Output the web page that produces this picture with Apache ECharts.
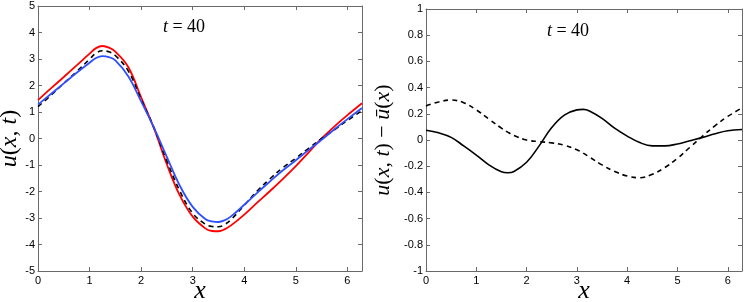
<!DOCTYPE html>
<html>
<head>
<meta charset="utf-8">
<script src="https://cdn.jsdelivr.net/npm/echarts@6/dist/echarts.min.js"></script>
<style>
html,body{margin:0;padding:0;background:#fff;}
#chart{width:747px;height:302px;}
</style>
</head>
<body>
<div id="chart"></div>
<script>
// ---- data ----
var xLeft  = [0,0.25,0.5,0.75,1.0,1.125,1.25,1.375,1.5,1.75,2.0,2.25,2.5,2.75,3.0,3.25,3.375,3.5,3.625,3.75,4.0,4.25,4.5,4.75,5.0,5.25,5.5,5.75,6.0,6.2832];
var uRed   = [1.45,1.89,2.32,2.76,3.20,3.41,3.49,3.43,3.28,2.70,1.55,0.38,-0.98,-2.15,-2.95,-3.40,-3.49,-3.50,-3.42,-3.27,-2.87,-2.42,-1.98,-1.52,-1.04,-0.52,0.0,0.46,0.88,1.33];
var uBlack = [1.20,1.63,2.08,2.53,2.99,3.22,3.31,3.27,3.13,2.55,1.48,0.40,-0.85,-1.98,-2.82,-3.24,-3.32,-3.33,-3.24,-3.05,-2.52,-1.98,-1.52,-1.10,-0.74,-0.37,0.0,0.33,0.68,1.05];
var uBlue  = [1.28,1.68,2.08,2.48,2.86,3.04,3.11,3.07,2.95,2.35,1.40,0.40,-0.70,-1.78,-2.58,-3.05,-3.13,-3.15,-3.08,-2.93,-2.50,-2.05,-1.62,-1.20,-0.82,-0.43,-0.05,0.35,0.73,1.15];

var xRight  = [0,0.25,0.5,0.75,1.0,1.25,1.5,1.625,1.75,2.0,2.25,2.5,2.75,3.0,3.125,3.25,3.5,3.75,4.0,4.25,4.5,4.75,5.0,5.25,5.5,5.75,6.0,6.2832];
var dSolid  = [0.075,0.055,0.02,-0.045,-0.115,-0.19,-0.243,-0.250,-0.240,-0.17,-0.045,0.095,0.19,0.230,0.234,0.222,0.165,0.09,0.03,-0.02,-0.045,-0.045,-0.03,-0.005,0.02,0.048,0.07,0.08];
var dDashed = [0.26,0.29,0.305,0.285,0.23,0.16,0.09,0.06,0.035,0.0,-0.012,-0.022,-0.04,-0.075,-0.10,-0.13,-0.19,-0.24,-0.275,-0.288,-0.262,-0.21,-0.14,-0.055,0.03,0.11,0.18,0.245];

var xTicks = [0,1,2,3,4,5,6];

function pairs(xs, ys){ return xs.map(function(x,i){ return [x, ys[i]]; }); }

var serif = 'Liberation Serif';
var sans = 'Liberation Sans';
var frame = '#6a6a6a';
var X_MAX = 6.2832;

function xAx(grid, name){
  return {
    type:'value', gridIndex:grid, min:0, max:X_MAX, interval:1, position:'bottom',
    axisLine:{show:true, onZero:false, lineStyle:{color:frame, width:1}},
    axisTick:{show:true, inside:true, length:4, lineStyle:{color:frame}},
    axisLabel:{show:true, color:'#000', fontFamily:sans, fontSize:11, margin:4,
      formatter:function(v){ return xTicks.indexOf(Math.round(v*1000)/1000) >= 0 ? String(Math.round(v)) : ''; }},
    splitLine:{show:false},
    name:name, nameLocation:'middle', nameGap:7, nameMoveOverlap:false,
    nameTextStyle:{fontFamily:serif, fontSize:26, fontStyle:'italic', color:'#000'}
  };
}
function xTop(grid){
  return {
    type:'value', gridIndex:grid, min:0, max:X_MAX, interval:1, position:'top',
    axisLine:{show:true, onZero:false, lineStyle:{color:frame, width:1}},
    axisTick:{show:true, inside:true, length:4, lineStyle:{color:frame}},
    axisLabel:{show:false}, splitLine:{show:false}
  };
}
function yAx(grid, min, max, interval, name, gap, fs){
  return {
    type:'value', gridIndex:grid, min:min, max:max, interval:interval, position:'left',
    axisLine:{show:true, onZero:false, lineStyle:{color:frame, width:1}},
    axisTick:{show:true, inside:true, length:4, lineStyle:{color:frame}},
    axisLabel:{show:true, color:'#000', fontFamily:sans, fontSize:11, margin:3},
    splitLine:{show:false},
    name:name, nameLocation:'middle', nameGap:gap, nameMoveOverlap:false,
    nameTextStyle:{fontFamily:serif, fontSize:fs, color:'#000',
      rich:{ i:{fontFamily:serif, fontSize:fs, fontStyle:'italic', color:'#000'},
             r:{fontFamily:serif, fontSize:fs, color:'#000'} }}
  };
}
function yRight(grid, min, max, interval){
  return {
    type:'value', gridIndex:grid, min:min, max:max, interval:interval, position:'right',
    axisLine:{show:true, onZero:false, lineStyle:{color:frame, width:1}},
    axisTick:{show:true, inside:true, length:4, lineStyle:{color:frame}},
    axisLabel:{show:false}, splitLine:{show:false}
  };
}

var chart = echarts.init(document.getElementById('chart'), null, {renderer:'canvas'});
var lineCommon = {type:'line', showSymbol:false, symbol:'none', smooth:0.4, animation:false};

chart.setOption({
  backgroundColor:'#fff',
  animation:false,
  grid:[
    {left:38, top:6, width:324, height:265, show:false, containLabel:false, outerBoundsMode:'none'},
    {left:426, top:9, width:316, height:262, show:false, containLabel:false, outerBoundsMode:'none'}
  ],
  xAxis:[ xAx(0,'x'), xTop(0), xAx(1,'x'), xTop(1) ],
  yAxis:[
    yAx(0,-5,5,1,'{i|u}{r|(}{i|x}{r|, }{i|t}{r|)}',16,24),
    yRight(0,-5,5,1),
    yAx(1,-1,1,0.2,'{i|u}{r|(}{i|x}{r|, }{i|t}{r|) − }{i|ū}{r|(}{i|x}{r|)}',32,22),
    yRight(1,-1,1,0.2)
  ],
  series:[
    Object.assign({}, lineCommon, {name:'red', xAxisIndex:0, yAxisIndex:0, data:pairs(xLeft,uRed),
      lineStyle:{color:'#ff0000', width:1.8}}),
    Object.assign({}, lineCommon, {name:'black', xAxisIndex:0, yAxisIndex:0, data:pairs(xLeft,uBlack),
      lineStyle:{color:'#000', width:1.6, type:[5,4]}}),
    Object.assign({}, lineCommon, {name:'blue', xAxisIndex:0, yAxisIndex:0, data:pairs(xLeft,uBlue),
      lineStyle:{color:'#2f4fff', width:1.8}}),
    Object.assign({}, lineCommon, {name:'solid', xAxisIndex:2, yAxisIndex:2, data:pairs(xRight,dSolid),
      lineStyle:{color:'#000', width:1.6}}),
    Object.assign({}, lineCommon, {name:'dashed', xAxisIndex:2, yAxisIndex:2, data:pairs(xRight,dDashed),
      lineStyle:{color:'#000', width:1.6, type:[5,4]}})
  ],
  graphic:[
    {type:'text', x:184, y:27, style:{text:'{i|t}{r| = 40}', align:'center', verticalAlign:'middle',
      rich:{i:{fontFamily:serif, fontSize:18, fontStyle:'italic', fill:'#000'}, r:{fontFamily:serif, fontSize:18, fill:'#000'}}}},
    {type:'text', x:568, y:31, style:{text:'{i|t}{r| = 40}', align:'center', verticalAlign:'middle',
      rich:{i:{fontFamily:serif, fontSize:18, fontStyle:'italic', fill:'#000'}, r:{fontFamily:serif, fontSize:18, fill:'#000'}}}}
  ]
});
</script>
</body>
</html>
